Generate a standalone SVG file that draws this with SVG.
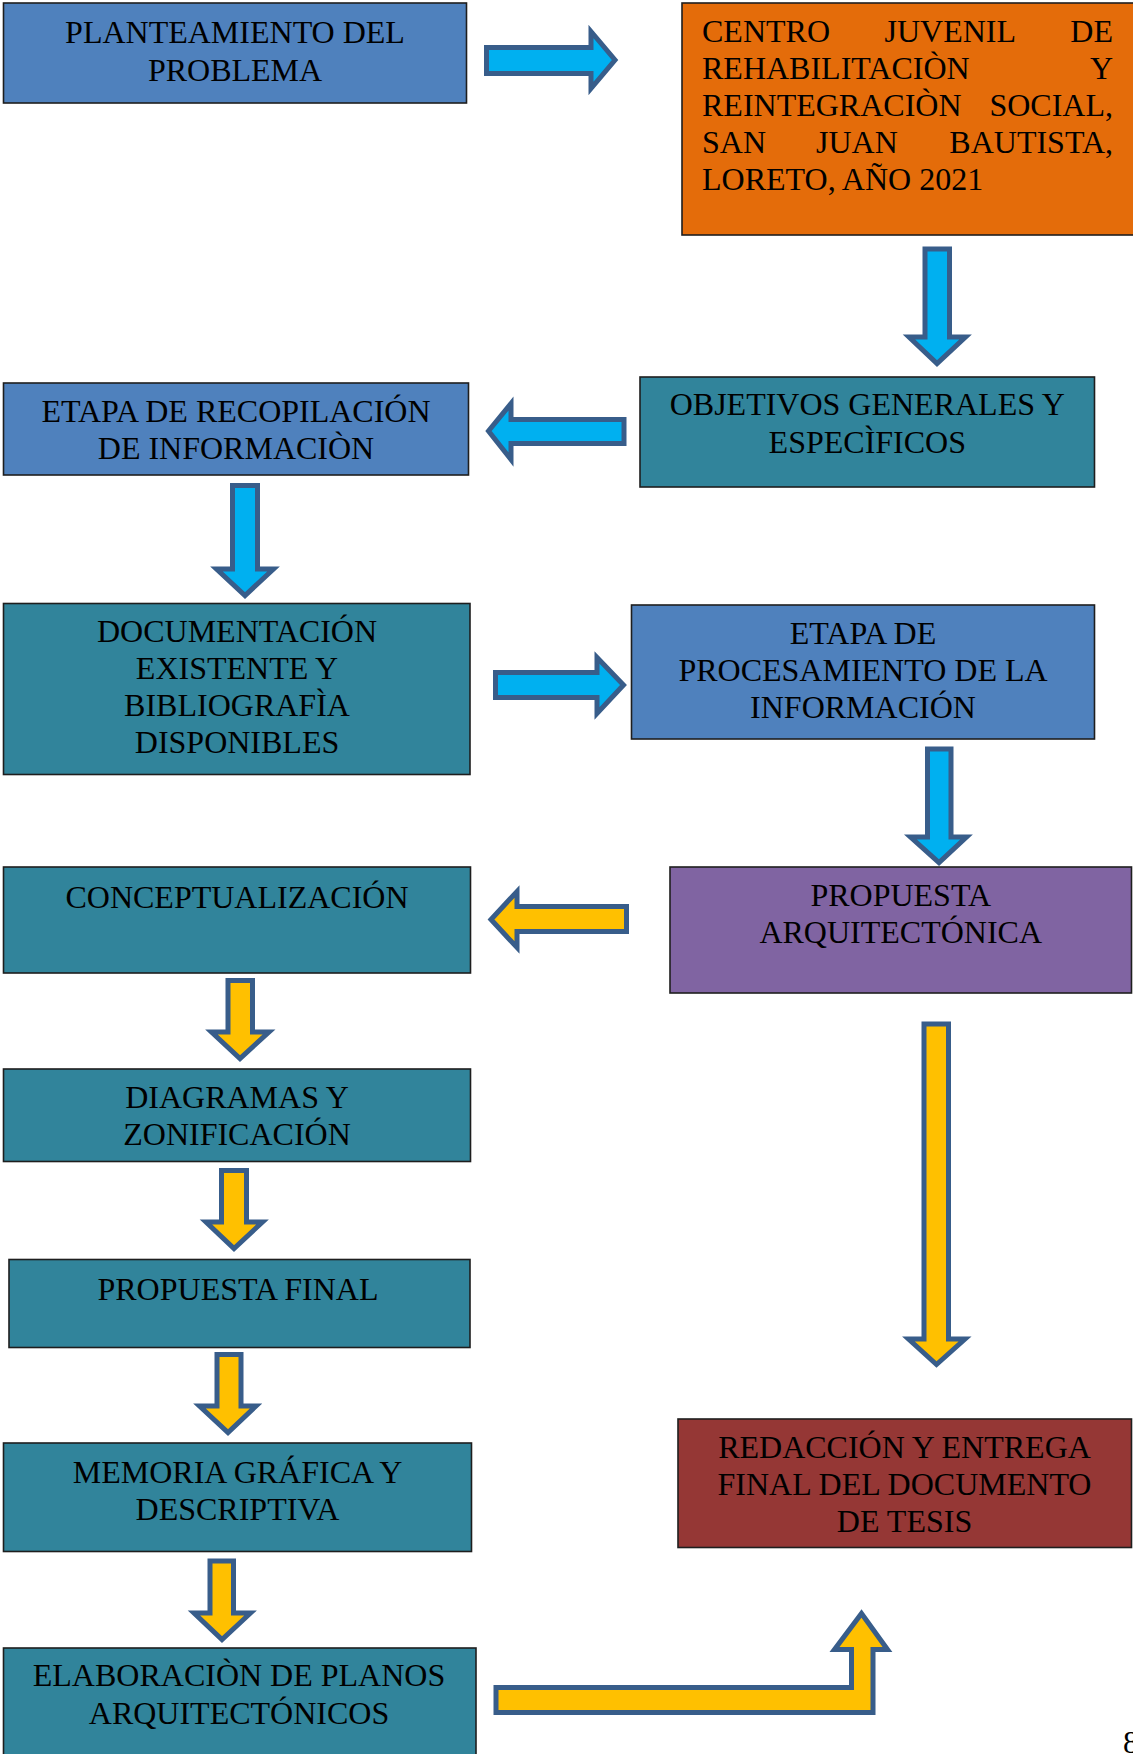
<svg xmlns="http://www.w3.org/2000/svg" width="1133" height="1754" viewBox="0 0 1133 1754">
<style>
.box{stroke:#1e1e1e;stroke-width:1.6}
.blue{fill:#4F81BD}
.teal{fill:#31849B}
.orange{fill:#E46C0A}
.purple{fill:#8064A2}
.red{fill:#953735}
text{font-family:"Liberation Serif","Times New Roman",serif;font-size:32px;fill:#000}
.c{text-anchor:middle}
.e{text-anchor:end}
.ac{fill:#00B0F0;stroke:#385D8A;stroke-width:5;stroke-linejoin:miter}
.ay{fill:#FFC000;stroke:#385D8A;stroke-width:5;stroke-linejoin:miter}
</style>
<rect width="1133" height="1754" fill="#fff"/>
<g id="connectors">
<polygon class="ac" points="486.5,47.5 591,47.5 591,31.5 615,60 591,88.5 591,73.5 486.5,73.5"/>
<polygon class="ac" points="925,249 949.5,249 949.5,337 965.5,337 937,363.5 909,337 925,337"/>
<polygon class="ac" points="624,419.5 511,419.5 511,403.5 488.5,431 511,459.5 511,443.5 624,443.5"/>
<polygon class="ac" points="232.5,485.5 257.5,485.5 257.5,569 273.5,569 245,595.5 216.5,569 232.5,569"/>
<polygon class="ac" points="495.5,672.5 597,672.5 597,657.5 623.5,685 597,713.5 597,697.5 495.5,697.5"/>
<polygon class="ac" points="927.5,749 951,749 951,837 966.5,837 939,862.5 910.5,837 927.5,837"/>
<polygon class="ay" points="626.5,906.5 517,906.5 517,891.5 491,919.5 517,947.5 517,931.5 626.5,931.5"/>
<polygon class="ay" points="228,980.5 252.5,980.5 252.5,1032 269,1032 240,1058.5 211.5,1032 228,1032"/>
<polygon class="ay" points="221.5,1170.5 246.5,1170.5 246.5,1222 262.5,1222 234,1248.5 206,1222 221.5,1222"/>
<polygon class="ay" points="217,1354.5 241,1354.5 241,1406 256,1406 228,1432.5 199.5,1406 217,1406"/>
<polygon class="ay" points="210,1561 233.5,1561 233.5,1613 250.5,1613 222,1639.5 194,1613 210,1613"/>
<polygon class="ay" points="924,1024 948.5,1024 948.5,1339 965,1339 936.5,1364.5 908.5,1339 924,1339"/>
<polygon class="ay" points="496,1687.5 851.5,1687.5 851.5,1649.5 834.5,1649.5 861.5,1613.5 887.5,1649.5 873,1649.5 873,1712.5 496,1712.5"/>
</g>
<g id="n1">
<rect class="box blue" x="3.5" y="3" width="463" height="100"/>
<text class="c" x="235" y="43">PLANTEAMIENTO DEL</text>
<text class="c" x="235" y="81">PROBLEMA</text>
</g>
<g id="n2">
<rect class="box orange" x="682" y="3" width="460" height="232"/>
<text x="702" y="42">CENTRO</text>
<text x="884.5" y="42">JUVENIL</text>
<text class="e" x="1113" y="42">DE</text>
<text x="702" y="79">REHABILITACIÒN</text>
<text class="e" x="1113" y="79">Y</text>
<text x="702" y="116">REINTEGRACIÒN</text>
<text class="e" x="1113" y="116">SOCIAL,</text>
<text x="702" y="153">SAN</text>
<text x="816" y="153">JUAN</text>
<text class="e" x="1113" y="153">BAUTISTA,</text>
<text x="702" y="190">LORETO, AÑO 2021</text>
</g>
<g id="n3">
<rect class="box teal" x="640" y="377" width="454.5" height="110"/>
<text class="c" x="867.3" y="415">OBJETIVOS GENERALES Y</text>
<text class="c" x="867.3" y="452.5">ESPECÌFICOS</text>
</g>
<g id="n4">
<rect class="box blue" x="3.5" y="383" width="465" height="92"/>
<text class="c" x="236" y="421.5">ETAPA DE RECOPILACIÓN</text>
<text class="c" x="236" y="458.5">DE INFORMACIÒN</text>
</g>
<g id="n5">
<rect class="box teal" x="3.5" y="603.5" width="466.5" height="171"/>
<text class="c" x="237" y="642">DOCUMENTACIÓN</text>
<text class="c" x="237" y="679">EXISTENTE Y</text>
<text class="c" x="237" y="716">BIBLIOGRAFÌA</text>
<text class="c" x="237" y="753">DISPONIBLES</text>
</g>
<g id="n6">
<rect class="box blue" x="631.5" y="605" width="463" height="134"/>
<text class="c" x="863" y="644">ETAPA DE</text>
<text class="c" x="863" y="681">PROCESAMIENTO DE LA</text>
<text class="c" x="863" y="718">INFORMACIÓN</text>
</g>
<g id="n7">
<rect class="box purple" x="670" y="867" width="461.5" height="126"/>
<text class="c" x="900.7" y="906">PROPUESTA</text>
<text class="c" x="900.7" y="943">ARQUITECTÓNICA</text>
</g>
<g id="n8">
<rect class="box teal" x="3.5" y="867" width="467" height="106"/>
<text class="c" x="237" y="908">CONCEPTUALIZACIÓN</text>
</g>
<g id="n9">
<rect class="box teal" x="3.5" y="1069" width="467" height="92.5"/>
<text class="c" x="237" y="1108">DIAGRAMAS Y</text>
<text class="c" x="237" y="1145">ZONIFICACIÓN</text>
</g>
<g id="n10">
<rect class="box teal" x="9" y="1259.5" width="461" height="88"/>
<text class="c" x="238" y="1299.5">PROPUESTA FINAL</text>
</g>
<g id="n11">
<rect class="box teal" x="3.5" y="1443" width="468" height="108.5"/>
<text class="c" x="237.5" y="1482.5">MEMORIA GRÁFICA Y</text>
<text class="c" x="237.5" y="1520">DESCRIPTIVA</text>
</g>
<g id="n12">
<rect class="box teal" x="3.5" y="1648" width="472.5" height="120"/>
<text class="c" x="239" y="1686">ELABORACIÒN DE PLANOS</text>
<text class="c" x="239" y="1723.5">ARQUITECTÓNICOS</text>
</g>
<g id="n13">
<rect class="box red" x="678" y="1419" width="453.5" height="128.5"/>
<text class="c" x="904.5" y="1458">REDACCIÓN Y ENTREGA</text>
<text class="c" x="904.5" y="1495">FINAL DEL DOCUMENTO</text>
<text class="c" x="904.5" y="1532">DE TESIS</text>
</g>
<text x="1123" y="1753">8</text>
</svg>
